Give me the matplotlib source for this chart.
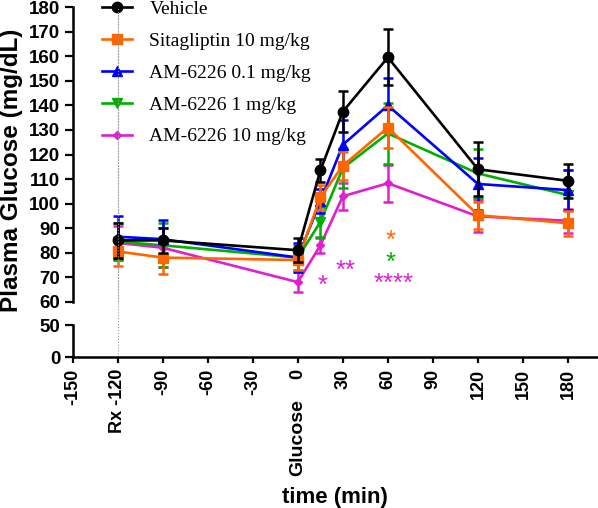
import matplotlib
matplotlib.use('Agg')
import matplotlib.pyplot as plt
import matplotlib.transforms as mtransforms

# time points (min) and group means / SEM
times = [-120, -90, 0, 15, 30, 60, 120, 180]

vehicle = [85, 85, 81, 113.5, 137.5, 159.6, 114, 109.3]
vehicle_err = [7, 5, 5, 4.7, 8.2, 11.4, 11, 7]
sita = [80.5, 78, 77, 102.5, 115.5, 131, 95.3, 92]
sita_err = [6, 6.5, 4, 5, 5.7, 8.3, 5.5, 5]
am01 = [86.5, 85.5, 78, 101, 124, 140, 108, 105.5]
am01_err = [8.5, 8, 6, 5, 10, 11, 10.5, 8]
am1 = [84.5, 83, 78, 92.5, 114.5, 128.6, 112.3, 103.5]
am1_err = [7.5, 9, 5, 6, 8, 12.5, 10, 10]
am10 = [84, 82, 68, 83, 103, 108.3, 94.8, 93]
am10_err = [7, 8, 4, 3, 5.5, 7.5, 6.5, 5]

labels = ['Vehicle', 'Sitagliptin 10 mg/kg', 'AM-6226 0.1 mg/kg',
          'AM-6226 1 mg/kg', 'AM-6226 10 mg/kg']
colors = ['black', '#ff6600', '#0000ff', '#00b000', '#e020d0']
markers = ['o', 's', '^', 'v', 'D']
msizes = [7.5, 7.5, 7.5, 7.5, 4.5]
means = [vehicle, sita, am01, am1, am10]
errs = [vehicle_err, sita_err, am01_err, am1_err, am10_err]

# significance marks: (x, y, text, colour)
stars = [(61.5, 85.8, '*', '#ff6600'),
         (62, 77, '*', '#00b000'),
         (16.7, 67.3, '*', '#e020d0'),
         (32, 73.5, '**', '#e020d0'),
         (64, 68.3, '****', '#e020d0')]

xticks = [-150, -120, -90, -60, -30, 0, 30, 60, 90, 120, 150, 180]
xticklabels = ['-150', 'Rx -120', '-90', '-60', '-30', '0', '30', '60',
               '90', '120', '150', '180']

sans = 'Liberation Sans'
serif = 'Liberation Serif'

fig = plt.figure(figsize=(5.98, 5.08), dpi=100)
ax_hi = fig.add_axes([0.1216, 0.406, 0.8784, 0.5796])
ax_lo = fig.add_axes([0.1216, 0.2967, 0.8784, 0.0635], sharex=ax_hi)

handles = [None] * 5
for i in [4, 3, 2, 1, 0]:
    ax_hi.errorbar(times, means[i], yerr=errs[i], fmt='none', ecolor=colors[i],
                   elinewidth=1.8, capsize=3.5, capthick=1.8, zorder=7 - i)
    handles[i], = ax_hi.plot(times, means[i], color=colors[i], lw=1.9,
                             marker=markers[i], ms=msizes[i], label=labels[i],
                             zorder=7 - i)

for x, y, s, c in stars:
    ax_hi.text(x, y, s, color=c, fontsize=18.5, fontfamily=sans,
               ha='center', va='center_baseline')

# dotted reference line at dosing time
ax_hi.axvline(-120, color='#999999', lw=0.8, ls=':', zorder=1)
top = (0.406 + 0.5796 - 0.2967) / 0.0635
ax_lo.plot([-120, -120], [0, top], transform=ax_lo.get_xaxis_transform(),
           color='#999999', lw=0.8, ls=':', clip_on=False, zorder=1)

ax_hi.set_xlim(-150, 200)
ax_hi.set_ylim(60, 180)
ax_lo.set_ylim(0, 50)

for ax in (ax_hi, ax_lo):
    for s in ('top', 'right'):
        ax.spines[s].set_visible(False)
    ax.spines['left'].set_linewidth(1.8)
    ax.tick_params(axis='y', length=6, width=1.6, pad=3, labelsize=13.5)
    ax.patch.set_alpha(0)

ax_hi.spines['bottom'].set_visible(False)
ax_hi.tick_params(axis='x', which='both', bottom=False, labelbottom=False)
ax_hi.set_yticks(range(60, 181, 10))
ax_lo.set_yticks([0, 50])
ax_lo.spines['bottom'].set_linewidth(1.8)

ax_lo.set_xticks(xticks)
ax_lo.set_xticklabels(xticklabels, rotation=90)
ax_lo.tick_params(axis='x', length=4.5, width=1.6, pad=4, labelsize=13)

for ax in (ax_hi, ax_lo):
    for t in ax.get_yticklabels() + ax.get_xticklabels():
        t.set_fontfamily(sans)
        t.set_fontweight('bold')

tr = mtransforms.blended_transform_factory(ax_lo.transData, fig.transFigure)
ax_lo.text(0, 1 - 399 / 508, 'Glucose', transform=tr, rotation=90,
           ha='center', va='top', fontsize=14, fontweight='bold', fontfamily=sans)

fig.text(335 / 598, 1 - 497 / 508, 'time (min)', ha='center', va='center',
         fontsize=16, fontweight='bold', fontfamily=sans)
fig.text(12 / 598, 1 - 170 / 508, 'Plasma Glucose (mg/dL)', rotation=90,
         ha='center', va='center', fontsize=17.5, fontweight='bold', fontfamily=sans)

ax_hi.legend(handles=handles, loc='upper left',
             bbox_to_anchor=(101.7 / 598, 1 - 0.5 / 508),
             bbox_transform=fig.transFigure, frameon=False,
             prop={'family': serif, 'size': 14}, handlelength=1.55,
             handletextpad=0.9, labelspacing=0.73, borderpad=0,
             borderaxespad=0)

fig.savefig('out.png', dpi=100)
